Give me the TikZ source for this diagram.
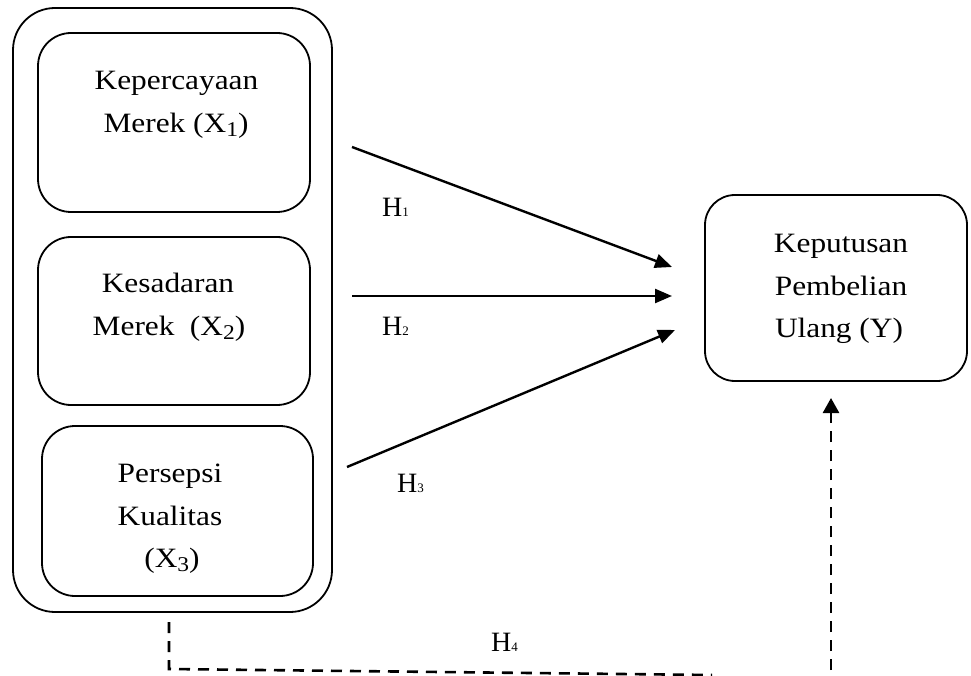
\documentclass[tikz,border=0pt]{standalone}
\usepackage{fontspec}
\setmainfont{Liberation Serif}[FakeStretch=1.12]
\newfontfamily\hfont{Liberation Serif}
\usetikzlibrary{arrows.meta}
\newcommand\xsb[1]{\raisebox{-4pt}{\fontsize{21}{21}\selectfont #1}}
\newcommand\hsb[1]{{\fontsize{13}{13}\selectfont #1}}
\begin{document}
\begin{tikzpicture}[x=1pt,y=-1pt,
  box/.style={draw, line width=1.8pt, rounded corners=33pt, inner sep=0pt},
  lbl/.style={anchor=base, inner sep=0pt, font=\fontsize{28}{28}\selectfont},
  hl/.style={anchor=base west, inner sep=0pt, font=\hfont\fontsize{28}{28}\selectfont},
  arr/.style={line width=2.4pt, -{Triangle[length=17pt,width=14pt]}},
  dsh/.style={line width=2.6pt, dash pattern=on 11pt off 8pt}]
\useasboundingbox (0,0) rectangle (971,676);
% boxes
\node[box, rounded corners=42pt, minimum width=319pt, minimum height=604pt] (outer) at (172.5,310) {};
\node[box, minimum width=272pt, minimum height=179pt] (b1) at (174,122.5) {};
\node[box, minimum width=272pt, minimum height=168pt] (b2) at (174,321) {};
\node[box, minimum width=271pt, minimum height=170pt] (b3) at (177.5,511) {};
\node[box, rounded corners=30pt, minimum width=262pt, minimum height=186pt] (ybox) at (836,288) {};
% texts
\node[lbl] (t1a) at (176.5,90) {Kepercayaan};
\node[lbl] (t1b) at (176,133) {Merek (X\xsb{1})};
\node[lbl] (t2a) at (168,292) {Kesadaran};
\node[lbl] (t2b) at (169,335) {Merek\hspace{0.55em}(X\xsb{2})};
\node[lbl] (t3a) at (170,482) {Persepsi};
\node[lbl] (t3b) at (170,525) {Kualitas};
\node[lbl] (t3c) at (172,567) {(X\xsb{3})};
\node[lbl] (ya) at (841,253) {Keputusan};
\node[lbl] (yb) at (841,295) {Pembelian};
\node[lbl] (yc) at (839,337) {Ulang (Y)};
% hypothesis labels
\node[hl] (h1) at (382,217) {H\hsb{1}};
\node[hl] (h2) at (382,335) {H\hsb{2}};
\node[hl] (h3) at (397,492) {H\hsb{3}};
\node[hl] (h4) at (491,651) {H\hsb{4}};
% connector end points
\coordinate (s1) at (352,147);
\coordinate (e1) at (672,267);
\coordinate (s2) at (352,296);
\coordinate (e2) at (672,296);
\coordinate (s3) at (347,467);
\coordinate (e3) at (675,330);
\coordinate (d0) at (169,622);
\coordinate (d1) at (169,669);
\coordinate (d2) at (712,675);
\coordinate (u0) at (831,670);
\coordinate (u1) at (831,398);
% connectors
\draw[arr] (s1) -- (e1);
\draw[arr] (s2) -- (e2);
\draw[arr] (s3) -- (e3);
\draw[dsh] (d0) -- (d1) -- (d2);
\draw[dsh, -{Triangle[length=15pt,width=16pt]}] (u0) -- (u1);
\end{tikzpicture}
\end{document}
